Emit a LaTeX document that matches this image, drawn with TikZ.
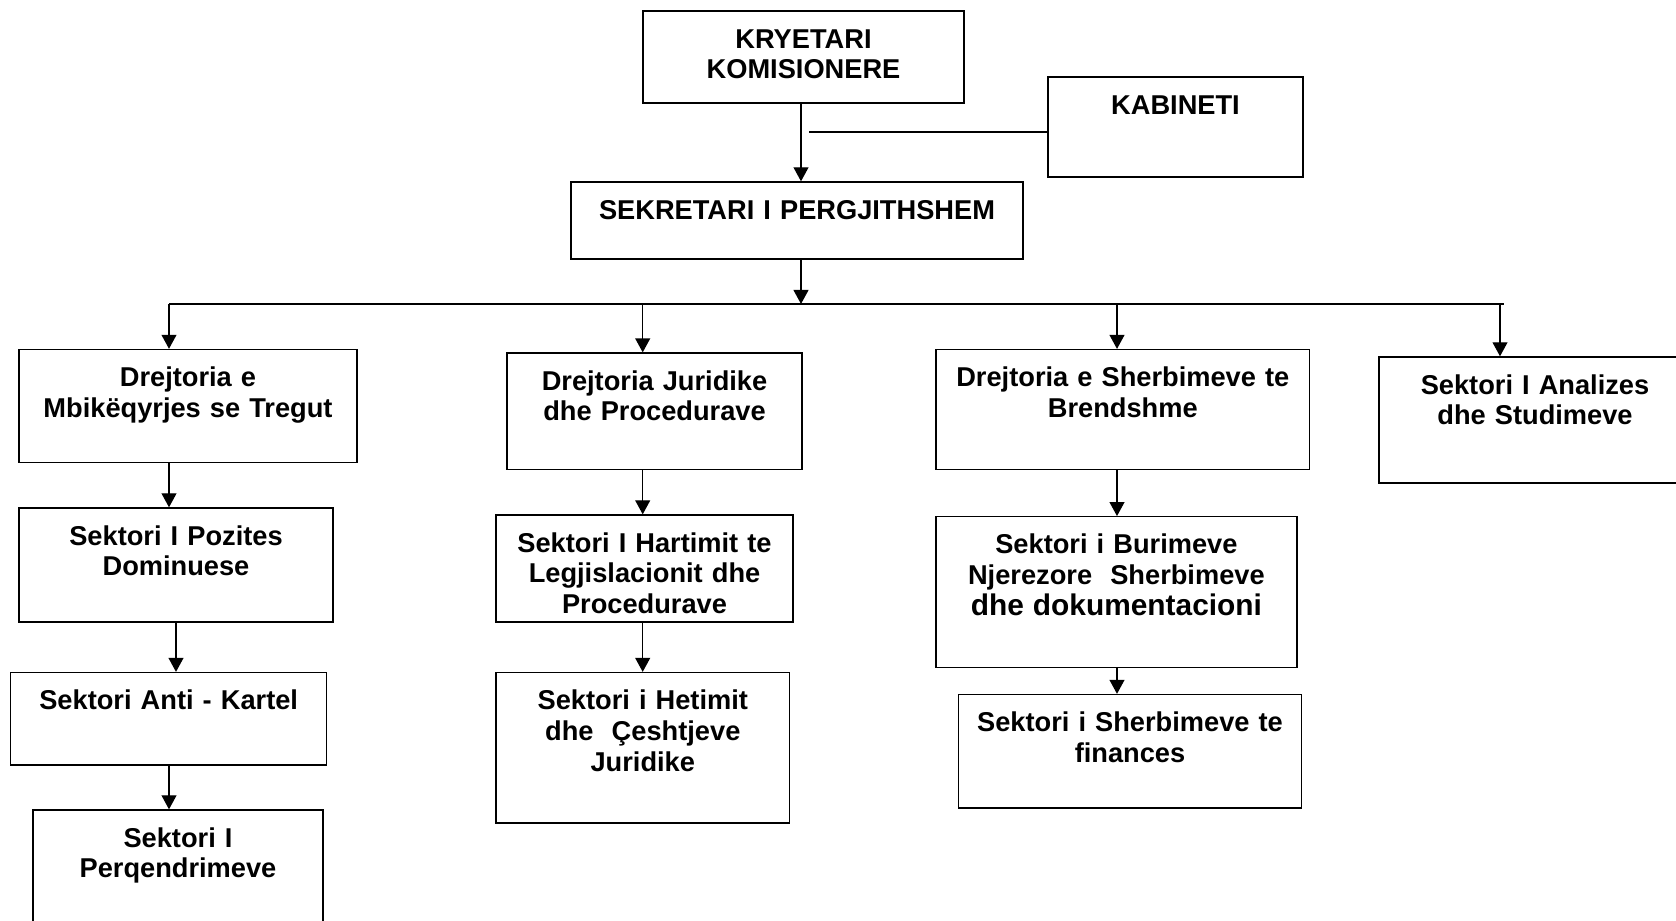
\documentclass[tikz,border=0pt]{standalone}
\usepackage{fontspec}
\setmainfont{Liberation Sans}
\usepackage{tikz}
\usetikzlibrary{arrows.meta}
\pgfdeclarelayer{edgelayer}
\pgfdeclarelayer{nodelayer}
\pgfsetlayers{edgelayer,nodelayer,main}
\newcommand{\boxfont}{\fontsize{15.5}{17.6}\selectfont\bfseries}
\tikzstyle{box}=[rectangle,fill=white,draw=black,line width=0.8pt,align=center,inner sep=0pt,text height=0.74cm,font=\boxfont]
\tikzstyle{link}=[line width=0.8pt,>={Triangle[width=8.5pt,length=8pt]}]

\begin{document}
\begin{tikzpicture}[x=0.02cm, y=-0.02cm]
        \useasboundingbox (0, 0) rectangle (1676, 920);

        \begin{pgfonlayer}{nodelayer}
            \node [style = box, text width = 6.42cm, text depth = 1.10cm] (kryet) at (803.5, 57) {KRYETARI\\KOMISIONERE};
            \node [style = box, text width = 5.10cm, text depth = 1.26cm] (kabin) at (1175.5, 127) {KABINETI};
            \node [style = box, text width = 9.04cm, text depth = 0.80cm] (sekret) at (797, 220.5) {SEKRETARI I PERGJITHSHEM};

            \node [style = box, text width = 6.76cm, text depth = 1.52cm] (mbik) at (188, 406) {Drejtoria e\\Mbikëqyrjes se Tregut};
            \node [style = box, text width = 6.28cm, text depth = 1.54cm] (pozit) at (176, 565) {Sektori I Pozites\\Dominuese};
            \node [style = box, text width = 6.32cm, text depth = 1.11cm] (anti) at (168.7, 718.8) {Sektori Anti - Kartel};
            \node [style = box, text width = 5.80cm, text depth = 2.26cm] (perq) at (178, 885) {Sektori I\\Perqendrimeve};

            \node [style = box, text width = 5.90cm, text depth = 1.59cm] (jurid) at (654.5, 411.3) {Drejtoria Juridike\\dhe Procedurave};
            \node [style = box, text width = 5.94cm, text depth = 1.40cm] (hartim) at (644.5, 568.5) {Sektori I Hartimit te\\Legjislacionit dhe\\Procedurave};
            \node [style = box, text width = 5.87cm, text depth = 2.27cm] (hetim) at (642.8, 747.8) {Sektori i Hetimit\\dhe~ Çeshtjeve\\Juridike};

            \node [style = box, text width = 7.47cm, text depth = 1.66cm] (sherb) at (1122.8, 409.6) {Drejtoria e Sherbimeve te\\Brendshme};
            \node [style = box, text width = 7.22cm, text depth = 2.27cm] (burim) at (1116.4, 592) {Sektori i Burimeve\\Njerezore~ Sherbimeve\\{\fontsize{17}{17.6}\selectfont dhe dokumentacioni}};
            \node [style = box, text width = 6.87cm, text depth = 1.53cm] (financ) at (1130, 751.3) {Sektori i Sherbimeve te\\finances};

            \node [style = box, text width = 6.24cm, text depth = 1.78cm] (analiz) at (1535, 420) {Sektori I Analizes\\dhe Studimeve};
        \end{pgfonlayer}

        \begin{pgfonlayer}{edgelayer}
            \coordinate (bus) at (801, 304);
            \coordinate (busl) at (169, 304);
            \coordinate (busr) at (1504, 304);
            \coordinate (drop2) at (642.7, 304);
            \coordinate (drop3) at (1117, 304);
            \coordinate (drop4) at (1500, 304);
            \coordinate (kabl) at (809, 132);

            \draw [->, style = link] (bus |- kryet.south) to (bus |- sekret.north);
            \draw [style = link] (kabl) to (kabl -| kabin.west);
            \draw [->, style = link] (bus |- sekret.south) to (bus);
            \draw [style = link] (busl) to (busr);

            \draw [->, style = link] (busl) to (busl |- mbik.north);
            \draw [->, style = link] (drop2) to (drop2 |- jurid.north);
            \draw [->, style = link] (drop3) to (drop3 |- sherb.north);
            \draw [->, style = link] (drop4) to (drop4 |- analiz.north);

            \draw [->, style = link] (busl |- mbik.south) to (busl |- pozit.north);
            \draw [->, style = link] (pozit.south) to (pozit.south |- anti.north);
            \draw [->, style = link] (busl |- anti.south) to (busl |- perq.north);

            \draw [->, style = link] (drop2 |- jurid.south) to (drop2 |- hartim.north);
            \draw [->, style = link] (drop2 |- hartim.south) to (drop2 |- hetim.north);

            \draw [->, style = link] (drop3 |- sherb.south) to (drop3 |- burim.north);
            \draw [->, style = link] (drop3 |- burim.south) to (drop3 |- financ.north);
        \end{pgfonlayer}
    \end{tikzpicture}
\end{document}
